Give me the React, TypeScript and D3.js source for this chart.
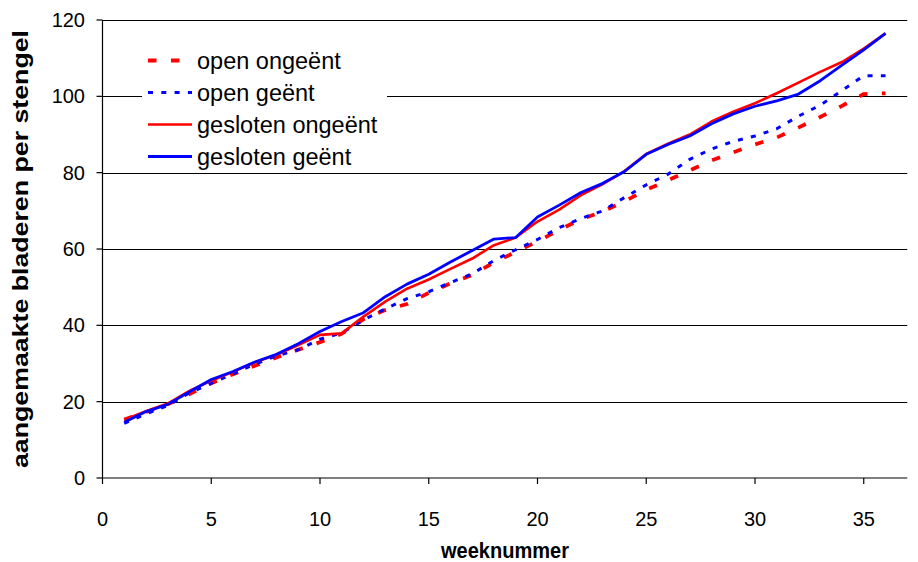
import React from "react";
import * as d3 from "d3";

// Week numbers and leaf counts per stem for the four treatments
const weeks: number[] = d3.range(1, 37);

const openOngeent: number[] = [
  15.3, 17.3, 19.3, 22.0, 24.8, 27.2, 29.4, 31.6, 33.6, 35.6,
  37.8, 41.6, 44.0, 45.6, 48.5, 51.0, 53.2, 56.5, 59.2, 62.0,
  65.0, 67.8, 69.8, 72.5, 75.5, 78.0, 80.6, 83.2, 85.3, 87.4,
  89.2, 91.8, 94.6, 97.5, 100.6, 100.8,
];
const openGeent: number[] = [
  14.3, 16.8, 19.0, 22.3, 24.8, 27.3, 29.8, 32.0, 33.6, 36.4,
  38.0, 41.4, 44.3, 47.0, 48.8, 51.2, 53.5, 57.0, 59.8, 62.5,
  65.6, 68.0, 70.0, 73.5, 76.8, 79.6, 83.5, 86.2, 88.2, 89.6,
  91.5, 94.8, 97.7, 101.5, 105.4, 105.4,
];
const geslotenOngeent: number[] = [
  15.3, 17.5, 19.5, 22.8, 25.5, 27.8, 30.3, 32.3, 34.8, 37.5,
  37.9, 42.3, 46.2, 49.6, 52.0, 54.8, 57.5, 61.0, 63.0, 67.2,
  70.3, 74.1, 77.0, 80.4, 84.9, 87.6, 90.0, 93.4, 96.0, 98.2,
  100.8, 103.6, 106.4, 109.0, 112.5, 116.5,
];
const geslotenGeent: number[] = [
  14.6, 17.4, 19.3, 22.6, 25.8, 27.9, 30.4, 32.4, 35.2, 38.4,
  41.0, 43.3, 47.5, 50.8, 53.4, 56.6, 59.6, 62.6, 63.0, 68.4,
  71.5, 74.8, 77.2, 80.3, 84.8, 87.4, 89.6, 92.8, 95.4, 97.4,
  98.8, 100.6, 104.1, 108.2, 112.2, 116.5,
];

const seriesNames: string[] = [
  "open ongeënt",
  "open geënt",
  "gesloten ongeënt",
  "gesloten geënt",
];
const seriesValues: number[][] = [openOngeent, openGeent, geslotenOngeent, geslotenGeent];

const xTicks: number[] = [0, 5, 10, 15, 20, 25, 30, 35];
const yTicks: number[] = [0, 20, 40, 60, 80, 100, 120];

const xTitle = "weeknummer";
const yTitle = "aangemaakte bladeren per stengel";

const styles = [
  { color: "#ff0000", width: 3.8, dash: "8.5,14.5" },
  { color: "#0000ff", width: 3, dash: "5,8.3" },
  { color: "#ff0000", width: 2.6, dash: "" },
  { color: "#0000ff", width: 2.8, dash: "" },
];

const W = 918;
const H = 562;
const FONT = "'Liberation Sans', Arial, Helvetica, sans-serif";

export default function App() {
  const x = d3.scaleLinear().domain([0, 37]).range([102.5, 907.25]);
  const y = d3.scaleLinear().domain([0, 120]).range([478, 20]);
  const line = d3
    .line<number>()
    .x((_, i) => x(weeks[i]))
    .y((d) => y(d));

  const [x0, x1] = x.range();
  const legendX = 142;
  const legendY = 36;
  const rowH = 32;

  return (
    <svg
      width={W}
      height={H}
      style={{ position: "absolute", left: 0, top: 0, background: "#fff" }}
      fontFamily={FONT}
    >
      <rect x={0} y={0} width={W} height={H} fill="#fff" />

      {/* horizontal gridlines */}
      {yTicks
        .filter((t) => t > 0)
        .map((t) => (
          <line
            key={"g" + t}
            x1={x0}
            x2={x1}
            y1={Math.round(y(t)) + 0.5}
            y2={Math.round(y(t)) + 0.5}
            stroke="#000"
            strokeWidth={1}
          />
        ))}

      {/* axes */}
      <line x1={x0} x2={x0} y1={y(120)} y2={y(0)} stroke="#000" strokeWidth={1.2} />
      <line x1={x0} x2={x1} y1={y(0)} y2={y(0)} stroke="#000" strokeWidth={1.2} />
      {yTicks.map((t) => (
        <g key={"yt" + t}>
          <line x1={x0 - 6} x2={x0} y1={y(t)} y2={y(t)} stroke="#000" strokeWidth={1.2} />
          <text
            x={85}
            y={y(t)}
            textAnchor="end"
            dominantBaseline="central"
            fontSize={20}
            fill="#000"
          >
            {t}
          </text>
        </g>
      ))}
      {xTicks.map((t) => (
        <g key={"xt" + t}>
          <line x1={x(t)} x2={x(t)} y1={y(0)} y2={y(0) + 6} stroke="#000" strokeWidth={1.2} />
          <text
            x={x(t)}
            y={519}
            textAnchor="middle"
            dominantBaseline="central"
            fontSize={20}
            fill="#000"
          >
            {t}
          </text>
        </g>
      ))}

      {/* axis titles */}
      <text
        x={505}
        y={550}
        textAnchor="middle"
        dominantBaseline="central"
        fontSize={22}
        fontWeight="bold"
        textLength={128}
        lengthAdjust="spacingAndGlyphs"
      >
        {xTitle}
      </text>
      <text
        transform="translate(21,249) rotate(-90)"
        textAnchor="middle"
        dominantBaseline="central"
        fontSize={21.5}
        fontWeight="bold"
        textLength={438}
        lengthAdjust="spacingAndGlyphs"
      >
        {yTitle}
      </text>

      {/* series */}
      {seriesValues.map((vals, i) => (
        <path
          key={"s" + i}
          d={line(vals) ?? ""}
          fill="none"
          stroke={styles[i].color}
          strokeWidth={styles[i].width}
          strokeDasharray={styles[i].dash || undefined}
          strokeLinejoin="round"
        />
      ))}

      {/* legend */}
      <rect x={legendX} y={legendY} width={245} height={134} fill="#fff" />
      {seriesNames.map((name, i) => {
        const cy = 60.5 + i * rowH;
        return (
          <g key={"l" + i}>
            <line
              x1={148}
              x2={192}
              y1={cy}
              y2={cy}
              stroke={styles[i].color}
              strokeWidth={styles[i].width}
              strokeDasharray={styles[i].dash || undefined}
            />
            <text x={197} y={cy} dominantBaseline="central" fontSize={23.5} fill="#000">
              {name}
            </text>
          </g>
        );
      })}
    </svg>
  );
}
